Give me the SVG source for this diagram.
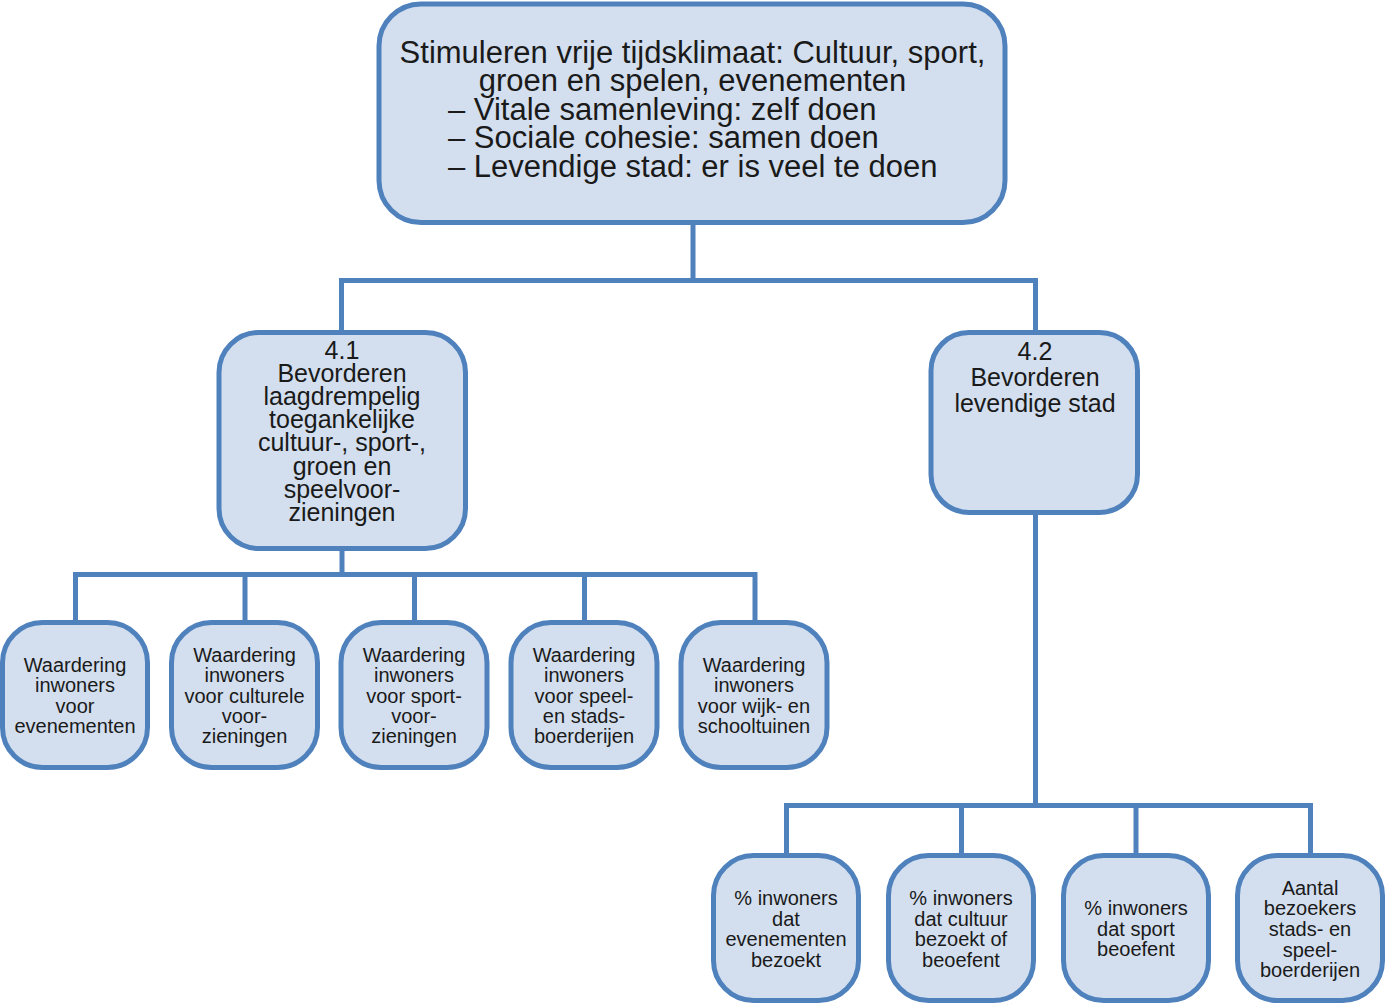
<svg xmlns="http://www.w3.org/2000/svg" width="1387" height="1005" viewBox="0 0 1387 1005">
<style>
.box{fill:#D3DFEE;stroke:#4F81BD;stroke-width:5}
.con{fill:none;stroke:#4F81BD;stroke-width:5;stroke-linejoin:miter}
text{font-family:"Liberation Sans",Arial,sans-serif;fill:#1a1a1a}
.t31{font-size:31px}
.t25{font-size:25px;text-anchor:middle}
.t20{font-size:20px;text-anchor:middle}
</style>
<rect width="1387" height="1005" fill="#ffffff"/>
<g id="connectors">
<path class="con" d="M693 222.5 V280.5 M341.5 332.5 V280.5 H1035.5 V332.5"/>
<path class="con" d="M342 548.5 V574.5 M75.5 622.5 V574.5 H755 V622.5 M245 574.5 V622.5 M414.5 574.5 V622.5 M584.5 574.5 V622.5"/>
<path class="con" d="M1035.5 512.5 V805.5 M786.5 855.5 V805.5 H1310.5 V855.5 M961.5 805.5 V855.5 M1136 805.5 V855.5"/>
</g>
<g id="top">
<rect class="box" x="379" y="4" width="626" height="218.5" rx="42"/>
<text class="t31" x="692.5" y="63" text-anchor="middle">Stimuleren vrije tijdsklimaat: Cultuur, sport,</text>
<text class="t31" x="692.5" y="91" text-anchor="middle">groen en spelen, evenementen</text>
<text class="t31" x="448" y="119.5">– Vitale samenleving: zelf doen</text>
<text class="t31" x="448" y="148">– Sociale cohesie: samen doen</text>
<text class="t31" x="448" y="176.5">– Levendige stad: er is veel te doen</text>
</g>
<g id="n41">
<rect class="box" x="219" y="332.5" width="246.5" height="216" rx="40"/>
<text class="t25" x="342" y="358.5">4.1</text>
<text class="t25" x="342" y="381.7">Bevorderen</text>
<text class="t25" x="342" y="404.9">laagdrempelig</text>
<text class="t25" x="342" y="428.1">toegankelijke</text>
<text class="t25" x="342" y="451.3">cultuur-, sport-,</text>
<text class="t25" x="342" y="474.5">groen en</text>
<text class="t25" x="342" y="497.7">speelvoor-</text>
<text class="t25" x="342" y="520.9">zieningen</text>
</g>
<g id="n42">
<rect class="box" x="931" y="332.5" width="206.5" height="180" rx="38"/>
<text class="t25" x="1035" y="360">4.2</text>
<text class="t25" x="1035" y="386">Bevorderen</text>
<text class="t25" x="1035" y="412">levendige stad</text>
</g>
<g id="w1">
<rect class="box" x="2.5" y="622.5" width="145" height="145" rx="40"/>
<text class="t20" x="75" y="672">Waardering</text>
<text class="t20" x="75" y="692.3">inwoners</text>
<text class="t20" x="75" y="712.6">voor</text>
<text class="t20" x="75" y="733">evenementen</text>
</g>
<g id="w2">
<rect class="box" x="171.5" y="622.5" width="146" height="145" rx="40"/>
<text class="t20" x="244.5" y="662">Waardering</text>
<text class="t20" x="244.5" y="682.3">inwoners</text>
<text class="t20" x="244.5" y="702.6">voor culturele</text>
<text class="t20" x="244.5" y="723">voor-</text>
<text class="t20" x="244.5" y="743.3">zieningen</text>
</g>
<g id="w3">
<rect class="box" x="341" y="622.5" width="146" height="145" rx="40"/>
<text class="t20" x="414" y="662">Waardering</text>
<text class="t20" x="414" y="682.3">inwoners</text>
<text class="t20" x="414" y="702.6">voor sport-</text>
<text class="t20" x="414" y="723">voor-</text>
<text class="t20" x="414" y="743.3">zieningen</text>
</g>
<g id="w4">
<rect class="box" x="511" y="622.5" width="146" height="145" rx="40"/>
<text class="t20" x="584" y="662">Waardering</text>
<text class="t20" x="584" y="682.3">inwoners</text>
<text class="t20" x="584" y="702.6">voor speel-</text>
<text class="t20" x="584" y="723">en stads-</text>
<text class="t20" x="584" y="743.3">boerderijen</text>
</g>
<g id="w5">
<rect class="box" x="681" y="622.5" width="146" height="145" rx="40"/>
<text class="t20" x="754" y="672">Waardering</text>
<text class="t20" x="754" y="692.3">inwoners</text>
<text class="t20" x="754" y="712.6">voor wijk- en</text>
<text class="t20" x="754" y="733">schooltuinen</text>
</g>
<g id="p1">
<rect class="box" x="713.5" y="855.5" width="145" height="145" rx="40"/>
<text class="t20" x="786" y="905">% inwoners</text>
<text class="t20" x="786" y="925.7">dat</text>
<text class="t20" x="786" y="946.4">evenementen</text>
<text class="t20" x="786" y="967">bezoekt</text>
</g>
<g id="p2">
<rect class="box" x="888.5" y="855.5" width="145" height="145" rx="40"/>
<text class="t20" x="961" y="905">% inwoners</text>
<text class="t20" x="961" y="925.7">dat cultuur</text>
<text class="t20" x="961" y="946.4">bezoekt of</text>
<text class="t20" x="961" y="967">beoefent</text>
</g>
<g id="p3">
<rect class="box" x="1063.5" y="855.5" width="145" height="145" rx="40"/>
<text class="t20" x="1136" y="915">% inwoners</text>
<text class="t20" x="1136" y="935.7">dat sport</text>
<text class="t20" x="1136" y="956.4">beoefent</text>
</g>
<g id="p4">
<rect class="box" x="1237.5" y="855.5" width="145" height="145" rx="40"/>
<text class="t20" x="1310" y="894.5">Aantal</text>
<text class="t20" x="1310" y="915.2">bezoekers</text>
<text class="t20" x="1310" y="935.9">stads- en</text>
<text class="t20" x="1310" y="956.6">speel-</text>
<text class="t20" x="1310" y="977.3">boerderijen</text>
</g>
</svg>
